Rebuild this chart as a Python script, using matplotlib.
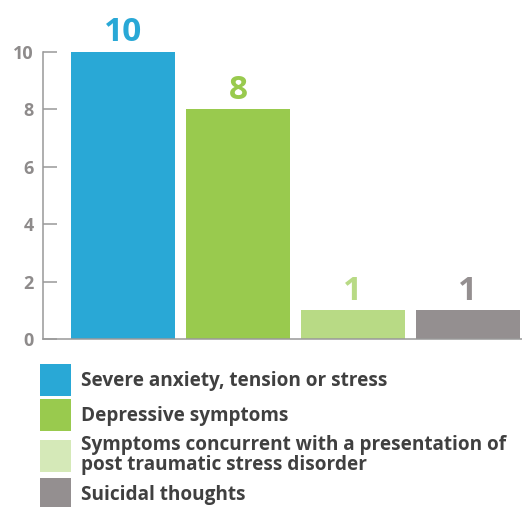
import matplotlib
matplotlib.use("Agg")
import matplotlib.pyplot as plt
from matplotlib.patches import Patch

categories = ["Severe anxiety, tension or stress",
              "Depressive symptoms",
              "Symptoms concurrent with a presentation of\npost traumatic stress disorder",
              "Suicidal thoughts"]
values = [10, 8, 1, 1]
bar_colors = ["#29A8D6", "#99CA4E", "#B8DA85", "#948F90"]
legend_colors = ["#29A8D6", "#99CA4E", "#D5E9B8", "#948F90"]
yticks = [0, 2, 4, 6, 8, 10]

plt.rcParams["font.family"] = ["Open Sans", "DejaVu Sans"]
plt.rcParams["font.weight"] = "bold"

fig = plt.figure(figsize=(5.22, 5.07), dpi=100)
ax = fig.add_axes([43 / 522, 1 - 339 / 507, 479 / 522, 287 / 507])

x = range(len(values))
bars = ax.bar(x, values, width=0.904, color=bar_colors)
for xi, v, c in zip(x, values, bar_colors):
    ax.annotate(str(v), (xi, v), xytext=(0, 2), textcoords="offset points",
                ha="center", va="bottom", fontsize=24, fontweight="bold",
                color=c, annotation_clip=False)

ax.set_xlim(-0.696, 3.47)
ax.set_ylim(0, 10)
ax.set_xticks([])
ax.set_yticks(yticks)
ax.set_yticklabels([str(t) for t in yticks], fontweight="bold")
for s in ["top", "right"]:
    ax.spines[s].set_visible(False)
for s in ["left", "bottom"]:
    ax.spines[s].set_color("#999999")
    ax.spines[s].set_linewidth(1.1)
ax.tick_params(axis="y", direction="in", length=10, width=1.1, color="#999999",
               pad=6.5, labelsize=13, labelcolor="#8E8B8B")

handles = [Patch(facecolor=c, edgecolor="none") for c in legend_colors]
leg = ax.legend(handles, categories, loc="upper left",
                bbox_to_anchor=(40 / 522, 1 - 364 / 507),
                bbox_transform=fig.transFigure, frameon=False,
                prop={"size": 13.7, "weight": "bold"},
                handlelength=1.63, handleheight=2.17, handletextpad=0.5,
                labelspacing=0.2, borderpad=0, borderaxespad=0,
                labelcolor="#404040")
for t in leg.get_texts():
    t.set_linespacing(1.0)

fig.savefig("out.png", dpi=100)
